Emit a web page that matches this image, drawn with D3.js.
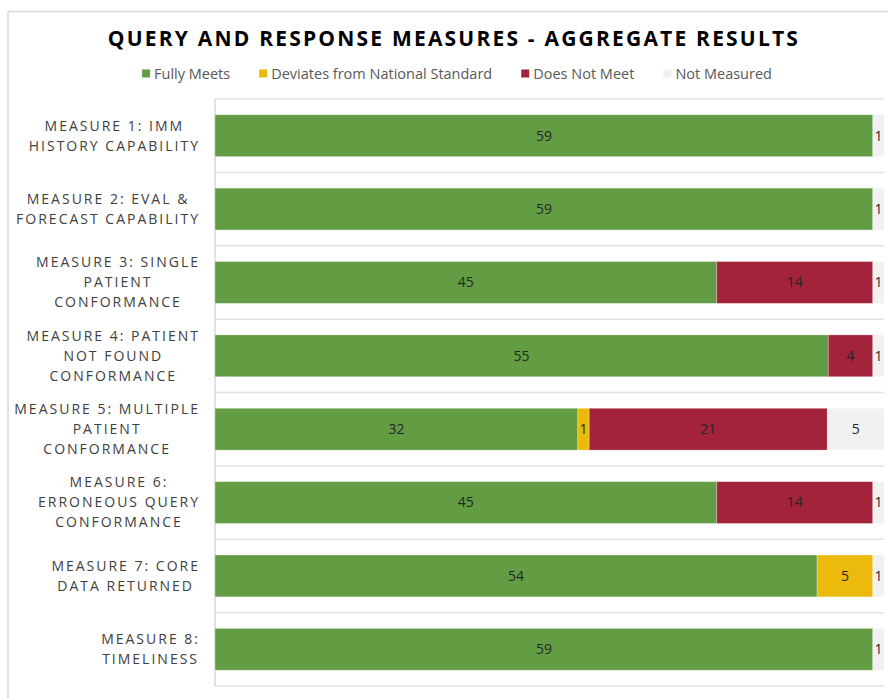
<!DOCTYPE html>
<html>
<head>
<meta charset="utf-8">
<script src="https://cdn.jsdelivr.net/npm/d3@7"></script>
<style>
  body { margin: 0; background: #fff; }
  svg { display: block; font-family: 'Open Sans', sans-serif; }
</style>
</head>
<body>
<div id="chart"></div>
<script>
// data
const categories = [
  ['MEASURE 1: IMM', 'HISTORY CAPABILITY'],
  ['MEASURE 2: EVAL &', 'FORECAST CAPABILITY'],
  ['MEASURE 3: SINGLE', 'PATIENT', 'CONFORMANCE'],
  ['MEASURE 4: PATIENT', 'NOT FOUND', 'CONFORMANCE'],
  ['MEASURE 5: MULTIPLE', 'PATIENT', 'CONFORMANCE'],
  ['MEASURE 6:', 'ERRONEOUS QUERY', 'CONFORMANCE'],
  ['MEASURE 7: CORE', 'DATA RETURNED'],
  ['MEASURE 8:', 'TIMELINESS']
];
const seriesNames = ['Fully Meets', 'Deviates from National Standard', 'Does Not Meet', 'Not Measured'];
const fullyMeets   = [59, 59, 45, 55, 32, 45, 54, 59];
const deviates     = [0, 0, 0, 0, 1, 0, 5, 0];
const doesNotMeet  = [0, 0, 14, 4, 21, 14, 0, 0];
const notMeasured  = [1, 1, 1, 1, 5, 1, 1, 1];
const colors = ['#629d44', '#ecba0c', '#a2233a', '#f1f1f1'];

const width = 888, height = 698;
const plot = { left: 215, right: 884, top: 99, bottom: 686 };

const rows = categories.map((c, i) => ({
  idx: i,
  s0: fullyMeets[i], s1: deviates[i], s2: doesNotMeet[i], s3: notMeasured[i]
}));
const keys = ['s0', 's1', 's2', 's3'];

// each row is shown as 100% of its total
const stacked = d3.stack().keys(keys).offset(d3.stackOffsetExpand)(rows);

const svg = d3.select('#chart').append('svg')
  .attr('width', width)
  .attr('height', height);

// outer frame
svg.append('line').attr('x1', 8).attr('x2', width).attr('y1', 11.5).attr('y2', 11.5)
  .attr('stroke', '#d9d9d9').attr('stroke-width', 1.5);
svg.append('line').attr('x1', 8).attr('x2', 8).attr('y1', 11.5).attr('y2', height)
  .attr('stroke', '#d9d9d9').attr('stroke-width', 1.5);

const x = d3.scaleLinear().domain([0, 1]).range([plot.left, plot.right]);
const y = d3.scaleBand()
  .domain(d3.range(categories.length))
  .range([plot.top, plot.bottom])
  .paddingInner(0.43)
  .paddingOuter(0.215);

// gridlines between categories
const step = y.step();
svg.append('g').selectAll('line')
  .data(d3.range(categories.length + 1))
  .enter().append('line')
  .attr('x1', plot.left).attr('x2', plot.right)
  .attr('y1', d => plot.top + d * step)
  .attr('y2', d => plot.top + d * step)
  .attr('stroke', '#e3e3e3')
  .attr('stroke-width', 1.5);

svg.append('line')
  .attr('x1', plot.left).attr('x2', plot.left)
  .attr('y1', plot.top).attr('y2', plot.bottom)
  .attr('stroke', '#d9d9d9').attr('stroke-width', 1.5);

// bars
const layers = svg.append('g').selectAll('g')
  .data(stacked)
  .enter().append('g')
  .attr('fill', (d, i) => colors[i]);

layers.selectAll('rect')
  .data(d => d)
  .enter().append('rect')
  .attr('x', d => x(d[0]))
  .attr('y', d => y(d.data.idx))
  .attr('width', d => x(d[1]) - x(d[0]))
  .attr('height', y.bandwidth())
  .attr('stroke', '#fff')
  .attr('stroke-opacity', 0.35)
  .attr('stroke-width', 0.8);

// value labels, drawn after all bars
const labelG = svg.append('g');
stacked.forEach(layer => {
  labelG.selectAll(null)
    .data(layer.filter(d => d.data[layer.key] > 0))
    .enter().append('text')
    .attr('x', d => (x(d[0]) + x(d[1])) / 2)
    .attr('y', d => y(d.data.idx) + y.bandwidth() / 2)
    .attr('dy', '0.35em')
    .attr('text-anchor', 'middle')
    .attr('fill', '#262626')
    .style('font-size', '14px')
    .text(d => d.data[layer.key]);
});

// category labels, lines centred inside a right-aligned block
const labelRight = 200;
const lineH = 20;
categories.forEach((lines, i) => {
  const g = svg.append('g');
  const texts = lines.map(l => g.append('text')
    .attr('fill', '#404040')
    .style('font-size', '14px')
    .style('letter-spacing', '2px')
    .attr('text-anchor', 'middle')
    .text(l));
  const maxW = d3.max(texts, t => t.node().getComputedTextLength());
  const cx = labelRight - maxW / 2;
  const cy = y(i) + y.bandwidth() / 2;
  texts.forEach((t, j) => {
    t.attr('x', cx)
     .attr('y', cy + (j - (lines.length - 1) / 2) * lineH)
     .attr('dy', '0.35em');
  });
});

// title
svg.append('text')
  .attr('x', 454)
  .attr('y', 46)
  .attr('text-anchor', 'middle')
  .attr('fill', '#000')
  .style('font-size', '21px')
  .style('font-weight', 'bold')
  .style('letter-spacing', '2.2px')
  .text('QUERY AND RESPONSE MEASURES - AGGREGATE RESULTS');

// legend
const legend = svg.append('g');
let lx = 0;
seriesNames.forEach((name, i) => {
  const item = legend.append('g').attr('transform', `translate(${lx},0)`);
  item.append('rect').attr('x', 0).attr('y', -4.5).attr('width', 8).attr('height', 8)
    .attr('fill', colors[i]);
  const t = item.append('text').attr('x', 12).attr('dy', '0.35em')
    .attr('fill', '#595959')
    .style('font-size', '14.5px')
    .text(name);
  lx += 12 + t.node().getComputedTextLength() + 29;
});
const legendW = lx - 29;
legend.attr('transform', `translate(${457 - legendW / 2},74)`);
</script>
</body>
</html>
